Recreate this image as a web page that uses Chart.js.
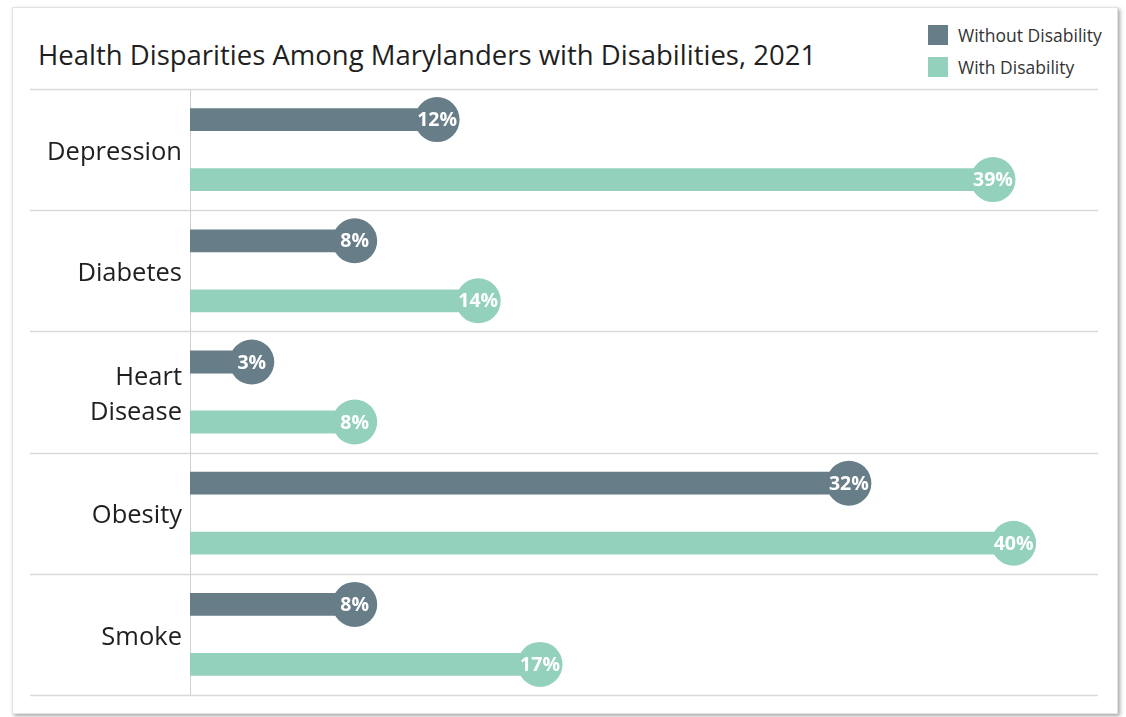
<!DOCTYPE html>
<html lang="en">
<head>
  <meta charset="UTF-8">
  <title>Health Disparities Among Marylanders with Disabilities, 2021</title>
  <script src="https://cdn.jsdelivr.net/npm/chart.js"></script>
  <style>
    html, body {
      margin: 0;
      padding: 0;
      background: #ffffff;
      width: 1126px;
      height: 717px;
      overflow: hidden;
      font-family: "Open Sans", sans-serif;
    }
    .card {
      position: absolute;
      left: 12px;
      top: 7px;
      width: 1104px;
      height: 705px;
      background: #ffffff;
      border: 1px solid #e2e2e2;
      box-shadow: 2px 2px 4px rgba(0, 0, 0, 0.35);
    }
    #title {
      position: absolute;
      left: 38px;
      top: 36px;
      font-size: 27.5px;
      line-height: 38px;
      color: #1f1f1f;
      white-space: nowrap;
    }
    #legend {
      position: absolute;
      left: 928px;
      top: 25px;
      font-size: 17.5px;
      color: #333;
    }
    #legend .item {
      display: flex;
      align-items: center;
      height: 20px;
      margin-bottom: 12px;
      white-space: nowrap;
    }
    #legend .box {
      width: 20px;
      height: 20px;
      margin-right: 10px;
    }
    #chart {
      position: absolute;
      left: 0;
      top: 0;
    }
  </style>
</head>
<body>
  <div class="card"></div>
  <div id="title">Health Disparities Among Marylanders with Disabilities, 2021</div>
  <div id="legend"></div>
  <canvas id="chart" width="1126" height="717"></canvas>

  <script>
    const categories = ["Depression", "Diabetes", ["Heart", "Disease"], "Obesity", "Smoke"];
    const seriesNames = ["Without Disability", "With Disability"];
    const withoutDisability = [12, 8, 3, 32, 8];
    const withDisability = [39, 14, 8, 40, 17];
    const colors = ["#677d87", "#93d1bd"];

    // legend in the top-right corner
    const legendEl = document.getElementById("legend");
    seriesNames.forEach((name, i) => {
      legendEl.innerHTML += `<div class="item"><span class="box" style="background:${colors[i]}"></span>${name}</div>`;
    });

    // row separators running across the label area too
    const rowLines = {
      id: "rowLines",
      beforeDatasetsDraw(chart) {
        const y = chart.scales.y;
        const area = chart.chartArea;
        const ctx = chart.ctx;
        const half = (y.getPixelForValue(1) - y.getPixelForValue(0)) / 2;
        ctx.save();
        ctx.strokeStyle = "#d9d9d9";
        ctx.lineWidth = 1.5;
        for (let i = 0; i <= categories.length; i++) {
          const py = Math.round(y.getPixelForValue(i) - half) + 0.5;
          ctx.beginPath();
          ctx.moveTo(30, py);
          ctx.lineTo(area.right, py);
          ctx.stroke();
        }
        ctx.restore();
      }
    };

    // round end caps with the value written inside
    const endCaps = {
      id: "endCaps",
      afterDatasetsDraw(chart) {
        const ctx = chart.ctx;
        ctx.save();
        chart.data.datasets.forEach((ds, di) => {
          chart.getDatasetMeta(di).data.forEach((bar, i) => {
            ctx.beginPath();
            ctx.arc(bar.x, bar.y, 22.5, 0, Math.PI * 2);
            ctx.fillStyle = ds.backgroundColor;
            ctx.fill();
            ctx.fillStyle = "#ffffff";
            ctx.font = "bold 19.5px 'Open Sans', sans-serif";
            ctx.textAlign = "center";
            ctx.textBaseline = "middle";
            ctx.fillText(ds.data[i] + "%", bar.x, bar.y + 1);
          });
        });
        ctx.restore();
      }
    };

    new Chart(document.getElementById("chart").getContext("2d"), {
      type: "bar",
      data: {
        labels: categories,
        datasets: [
          { label: seriesNames[0], data: withoutDisability, backgroundColor: colors[0] },
          { label: seriesNames[1], data: withDisability, backgroundColor: colors[1] }
        ]
      },
      options: {
        indexAxis: "y",
        responsive: false,
        animation: false,
        categoryPercentage: 0.99,
        barPercentage: 0.38,
        layout: {
          padding: { top: 89, bottom: 22, right: 28, left: 0 }
        },
        scales: {
          x: {
            display: false,
            min: 0,
            max: 44.1
          },
          y: {
            afterFit: axis => {
              axis.width = 190;
              axis.paddingTop = 0;
              axis.paddingBottom = 0;
            },
            grid: { display: false, drawTicks: false },
            border: { display: true, color: "#cfcfcf", width: 1 },
            ticks: {
              color: "#1f1f1f",
              padding: 8,
              labelOffset: 3,
              font: { family: "'Open Sans', sans-serif", size: 25.5, lineHeight: 1.38 }
            }
          }
        },
        plugins: {
          legend: { display: false },
          tooltip: { enabled: false }
        }
      },
      plugins: [rowLines, endCaps]
    });
  </script>
</body>
</html>
